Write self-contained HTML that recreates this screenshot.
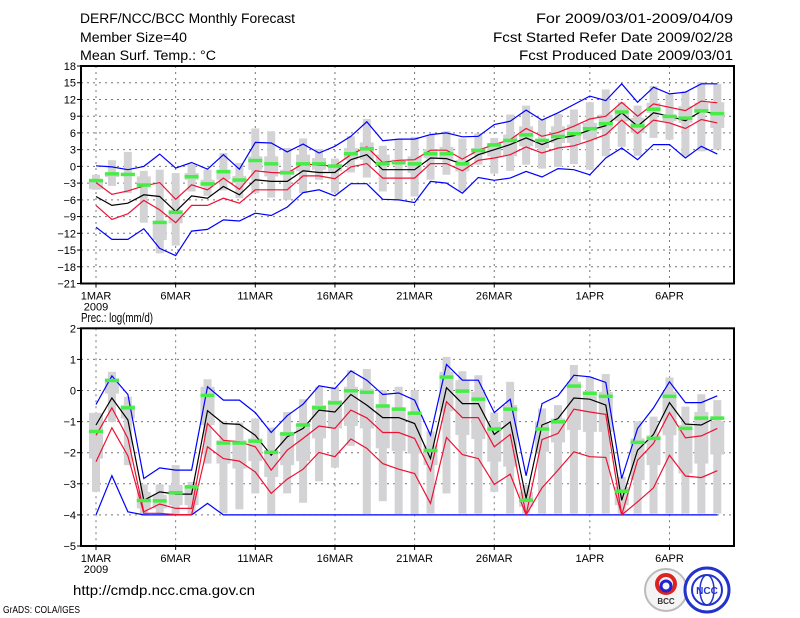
<!DOCTYPE html>
<html><head><meta charset="utf-8">
<style>
html,body{margin:0;padding:0;background:#fff;}
svg{display:block;font-family:"Liberation Sans",sans-serif;}
</style></head>
<body>
<svg id="chart" width="800" height="618" viewBox="0 0 800 618" xmlns="http://www.w3.org/2000/svg">
<rect width="800" height="618" fill="#fff"/>
<g font-size="13.5" fill="#000">
<text x="80" y="23" textLength="215" lengthAdjust="spacingAndGlyphs">DERF/NCC/BCC Monthly Forecast</text>
<text x="80" y="42" textLength="107" lengthAdjust="spacingAndGlyphs">Member Size=40</text>
<text x="80" y="60" textLength="136" lengthAdjust="spacingAndGlyphs">Mean Surf. Temp.: °C</text>
</g>
<g font-size="13.5" fill="#000" text-anchor="end">
<text x="733" y="23" textLength="197" lengthAdjust="spacingAndGlyphs">For 2009/03/01-2009/04/09</text>
<text x="733" y="42" textLength="240" lengthAdjust="spacingAndGlyphs">Fcst Started Refer Date 2009/02/28</text>
<text x="733" y="60" textLength="214" lengthAdjust="spacingAndGlyphs">Fcst Produced Date 2009/03/01</text>
</g>
<text x="81" y="322" font-size="13" textLength="72" lengthAdjust="spacingAndGlyphs">Prec.: log(mm/d)</text>
<text x="73" y="595" font-size="14" textLength="182" lengthAdjust="spacingAndGlyphs">http://cmdp.ncc.cma.gov.cn</text>
<text x="3" y="613" font-size="10" textLength="77" lengthAdjust="spacingAndGlyphs">GrADS: COLA/IGES</text>
<g>
<circle cx="666" cy="590" r="21" fill="#f4f4f4" stroke="#bbb" stroke-width="2"/>
<circle cx="666" cy="584" r="9" fill="none" stroke="#d22" stroke-width="4"/>
<circle cx="666" cy="586" r="5" fill="none" stroke="#22c" stroke-width="3"/>
<text x="666" y="604" font-size="8" font-weight="bold" text-anchor="middle" fill="#333">BCC</text>
</g>
<g>
<circle cx="707" cy="590" r="22" fill="#fff" stroke="#23c" stroke-width="3"/>
<circle cx="707" cy="590" r="15" fill="none" stroke="#23c" stroke-width="2"/>
<ellipse cx="707" cy="590" rx="7" ry="15" fill="none" stroke="#23c" stroke-width="1.5"/>
<text x="707" y="594" font-size="10" font-weight="bold" text-anchor="middle" fill="#23c">NCC</text>
</g>
<g id="p1"></g>
<g id="p2"></g>
</svg>
<script>
// shared
const dateLabels = ["1MAR","6MAR","11MAR","16MAR","21MAR","26MAR","1APR","6APR"];
const dateLabelDays = [0,5,10,15,20,25,31,36];
// temperature panel
const tTicks = [18,15,12,9,6,3,0,-3,-6,-9,-12,-15,-18,-21];
const tBlueHi = [0.1,-0.1,-0.6,0,2.2,-0.3,0.7,-0.5,2.1,-0.5,4.3,4.2,2.6,4.0,2.4,3.6,5.4,8.0,4.6,4.9,4.9,5.7,6.0,5.3,5.4,7.5,8.1,10.1,8.3,9.6,11.1,12.6,11.8,14.8,11.5,14.2,13.0,13.3,14.8,14.8];
const tRedHi = [-2.9,-5.0,-4.4,-3.5,-2.9,-5.9,-3.3,-4.2,-2.1,-4.1,-0.8,-1.1,-1.2,0.5,0.2,0.1,2.1,3.5,0.7,1.1,1.2,2.9,2.9,1.3,2.9,3.9,4.8,6.8,5.4,6.1,7.2,8.5,9.0,11.5,9.0,11.2,10.6,10.0,11.7,11.4];
const tMean = [-5.4,-7.0,-6.6,-5.1,-5.4,-8.1,-5.3,-5.7,-3.6,-5.1,-2.4,-2.7,-2.7,-0.8,-1.1,-1.1,1.2,2.1,-0.6,-0.6,-0.6,1.5,1.4,0.4,2.1,3.0,3.9,5.1,3.9,5.0,5.5,6.5,7.3,9.6,7.2,9.6,9.0,8.2,9.9,9.4];
const tRedLo = [-7.0,-9.5,-8.5,-6.1,-7.8,-10.1,-7.0,-7.0,-5.7,-6.6,-4.2,-4.2,-4.2,-1.7,-1.7,-2.2,-0.1,0.5,-2.1,-2.1,-2.1,0.5,0.5,-0.8,1.1,1.5,2.1,3.5,2.4,3.3,3.7,4.6,5.7,8.3,5.9,8.3,7.8,6.8,8.4,7.8];
const tBlueLo = [-10.9,-13.1,-13.1,-11.2,-14.7,-16.0,-11.6,-11.3,-9.6,-9.8,-8.4,-8.8,-7.3,-4.7,-4.2,-5.3,-3.1,-3.1,-5.9,-6.0,-6.5,-2.7,-3.0,-4.8,-2.0,-2.5,-2.1,-0.9,-1.9,-0.4,-0.6,-1.5,1.5,3.3,1.2,3.9,3.9,1.5,3.6,2.2];
const tObs = [-2.5,-1.3,-1.4,-3.3,-10.0,-8.2,-1.8,-3.1,-0.9,-2.4,1.1,0.5,-1.1,0.5,0.5,0.1,2.3,3.2,0.5,0.7,0.5,2.3,2.3,0.5,2.9,3.9,4.7,5.7,4.7,5.4,5.9,6.8,7.7,9.8,7.3,10.3,9.0,8.7,10.0,9.5];
const tMax = [-1.5,1.1,2.6,-0.8,-0.6,-1.2,0.4,-0.6,2.4,0.6,6.8,6.3,3.3,5.0,3.1,1.4,5.4,8.5,3.7,4.8,5.3,5.7,6.3,5.0,5.9,5.1,9.3,10.9,8.4,9.4,10.2,11.5,13.8,11.5,10.9,14.4,12.9,13.5,15.1,14.8];
const tQ3 = [-2.4,-1.2,-1.2,-1.8,-9.9,-7.8,-1.2,-2.4,-0.6,-1.7,1.8,1.8,-0.6,2.1,1.5,0.3,3.3,4.3,2.1,1.2,1.8,3.1,3.5,1.2,3.3,3.9,5.7,7.2,4.8,7.2,7.5,7.8,9.3,10.5,8.7,11.4,9.3,10.8,11.4,11.5];
const tQ1 = [-4.1,-1.9,-1.7,-3.6,-13.2,-10.2,-2.4,-3.6,-2.4,-3.0,-0.6,-1.8,-1.5,-0.9,-0.6,-0.9,1.2,1.2,0.6,0.6,-1.2,1.5,1.2,-0.9,2.1,1.8,1.8,3.6,3.3,4.2,4.2,4.8,6.6,8.1,6.0,9.6,8.1,7.8,9.6,6.9];
const tMin = [-4.2,-3.5,-4.8,-10.1,-15.6,-14.2,-4.5,-5.3,-4.3,-5.7,-4.8,-5.6,-6.0,-4.8,-2.4,-4.7,-1.1,-2.0,-4.5,-6.2,-5.4,-2.4,-1.5,-4.5,0.3,-1.3,-0.8,0.3,-0.4,-0.1,0.4,-0.6,1.8,3.5,1.9,5.1,4.8,1.8,2.7,3.0];
// precipitation panel
const pTicks = [2,1,0,-1,-2,-3,-4,-5];
const pBlueHi = [-0.45,0.47,-0.13,-2.83,-2.49,-2.56,-2.56,0.12,-0.31,-0.31,-0.71,-1.35,-0.81,-0.44,0.15,0.06,0.63,0.33,-0.13,-0.08,-0.31,-1.44,0.84,0.33,0.33,-0.71,-0.28,-2.74,-0.42,-0.17,0.49,0.44,0.26,-2.83,-1.22,-0.56,0.28,-0.39,-0.39,-0.17];
const pMean = [-1.11,-0.24,-0.95,-3.53,-3.26,-3.33,-3.33,-0.65,-1.06,-1.09,-1.44,-2.08,-1.49,-1.22,-0.63,-0.69,-0.13,-0.47,-0.87,-0.87,-1.06,-2.19,0.09,-0.42,-0.42,-1.41,-1.01,-3.47,-1.11,-0.9,-0.24,-0.28,-0.47,-3.53,-1.92,-1.41,-0.39,-1.08,-1.11,-0.85];
const pRedHi = [-1.44,-0.56,-1.54,-3.9,-3.65,-3.79,-3.79,-1.06,-1.6,-1.65,-1.81,-2.56,-1.92,-1.54,-1.14,-1.22,-0.63,-0.88,-1.35,-1.35,-1.54,-2.58,-0.36,-0.87,-0.87,-1.81,-1.41,-4.0,-1.58,-1.38,-0.6,-0.69,-0.77,-4.0,-2.24,-1.7,-0.71,-1.52,-1.46,-1.22];
const pRedLo = [-2.29,-1.2,-2.1,-3.95,-3.95,-3.99,-3.99,-1.81,-2.19,-2.27,-2.62,-3.31,-2.85,-2.53,-1.99,-2.13,-1.56,-1.86,-2.35,-2.53,-2.67,-3.63,-1.51,-2.06,-2.19,-3.02,-2.69,-4.0,-3.13,-2.56,-1.97,-2.13,-2.15,-4.0,-3.58,-3.13,-2.08,-2.75,-2.8,-2.58];
const pBlueLo = [-4,-2.74,-3.9,-4,-4,-4,-4,-3.63,-4,-4,-4,-4,-4,-4,-4,-4,-4,-4,-4,-4,-4,-4,-4,-4,-4,-4,-4,-4,-4,-4,-4,-4,-4,-4,-4,-4,-4,-4,-4,-4];
const pObs = [-1.31,0.33,-0.55,-3.53,-3.54,-3.28,-3.09,-0.15,-1.68,-1.68,-1.62,-1.98,-1.39,-1.1,-0.55,-0.39,0,-0.05,-0.49,-0.59,-0.72,-1.92,0.44,-0.01,-0.27,-1.23,-0.59,-3.52,-1.23,-1.0,0.15,-0.08,-0.18,-3.23,-1.66,-1.53,-0.18,-1.21,-0.88,-0.88];
const pMax = [-0.72,0.6,-0.2,-3.02,-3.02,-2.4,-2.94,0.36,-0.99,-1.03,-0.9,-1.19,-0.69,-0.28,0.12,0.12,0.65,0.69,0.01,0.12,0.01,-1.31,1.08,0.62,0.49,-0.71,0.28,-3.04,-0.58,-0.47,0.82,0.44,0.53,-2.78,-0.99,-0.84,0.42,-0.52,-0.12,-0.31];
const pQ3 = [-0.72,0.39,-0.47,-3.26,-3.36,-3.04,-3.15,0.12,-1.6,-1.6,-1.54,-1.92,-1.33,-1.06,-0.47,-0.31,0.12,0.06,-0.47,-0.58,-0.74,-1.76,0.6,0.33,-0.04,-1.01,-0.47,-3.26,-1.01,-0.9,0.28,-0.04,-0.04,-3.1,-1.54,-1.44,-0.04,-1.11,-0.69,-0.99];
const pQ1 = [-2.19,-0.1,-0.9,-3.79,-3.79,-3.69,-3.69,-1.11,-2.35,-2.51,-2.27,-2.78,-2.4,-2.27,-1.54,-1.22,-1.14,-1.22,-1.86,-1.95,-2.03,-2.4,-0.67,-1.43,-1.56,-2.29,-2.45,-3.74,-1.97,-1.67,-1.27,-1.33,-1.33,-3.69,-2.88,-2.4,-1.44,-2.67,-2.35,-2.06];
const pMin = [-3.26,-1.01,-2.4,-4.0,-3.98,-3.99,-3.99,-2.35,-3.95,-3.82,-3.31,-3.97,-3.31,-3.61,-2.92,-2.48,-1.78,-3.97,-3.56,-3.97,-3.97,-3.96,-3.31,-3.96,-3.96,-3.26,-3.96,-3.96,-3.96,-3.96,-3.96,-3.96,-3.96,-3.96,-3.96,-3.96,-3.96,-3.96,-3.96,-3.96];

const NS = "http://www.w3.org/2000/svg";
const X0 = 81, X1 = 734;
function xDay(i){ return 96 + i * 15.93; }
function mk(parent, tag, attrs){
  const e = document.createElementNS(NS, tag);
  for (const k in attrs) e.setAttribute(k, attrs[k]);
  parent.appendChild(e);
  return e;
}
function drawPanel(g, top, bot, vmax, vmin, ticks, S, prefix){
  const y = v => top + (vmax - v) / (vmax - vmin) * (bot - top);
  // grid
  ticks.forEach(t => {
    if (t === vmax || t === vmin) return;
    const l = mk(g, "line", {x1:X0, x2:X1, y1:y(t), y2:y(t), stroke:"#777", "stroke-width":1, "stroke-dasharray":"2,4"});
    
    
  });
  dateLabelDays.forEach(d => {
    const l = mk(g, "line", {x1:xDay(d), x2:xDay(d), y1:top, y2:bot, stroke:"#777", "stroke-width":1, "stroke-dasharray":"2,4"});
    
    
  });
  // boxes
  for (let i = 0; i < S.max.length; i++){
    const xc = xDay(i);
    const w = mk(g, "rect", {x:xc-4, y:y(S.max[i]), width:8, height:Math.max(1, y(S.min[i]) - y(S.max[i])), fill:"#d3d3d6"});
    
    
    const b = mk(g, "rect", {x:xc-7, y:y(S.q3[i]), width:14, height:Math.max(1, y(S.q1[i]) - y(S.q3[i])), fill:"#d3d3d6"});
    
    
  }
  const line = (arr, col, name) => {
    const p = mk(g, "polyline", {points: arr.map((v,i)=> xDay(i).toFixed(1)+","+y(v).toFixed(1)).join(" "), fill:"none", stroke:col, "stroke-width":1.2});
    
    
  };
  line(S.blueLo, "#0000ff", prefix + "-lower-bound-line");
  line(S.blueHi, "#0000ff", prefix + "-upper-bound-line");
  line(S.redLo, "#ee1133", prefix + "-lower-spread-line");
  line(S.redHi, "#ee1133", prefix + "-upper-spread-line");
  line(S.mean, "#000000", prefix + "-ensemble-mean-line");
  S.obs.forEach((v,i) => {
    const r = mk(g, "rect", {x:xDay(i)-7, y:y(v)-1.5, width:14, height:3.5, fill:"#44ee44"});
    
    
  });
  // frame
  const f = mk(g, "rect", {x:X0, y:top, width:X1-X0, height:bot-top, fill:"none", stroke:"#000", "stroke-width":2});
  
  
  // y ticks
  ticks.forEach(t => {
    mk(g, "line", {x1:X0-4, x2:X0, y1:y(t), y2:y(t), stroke:"#000", "stroke-width":1});
    const tx = mk(g, "text", {x:X0-5, y:y(t)+4, "font-size":11, "text-anchor":"end"});
    tx.textContent = (t < 0 ? "\u2212" + (-t) : String(t));
    
    
  });
  // x ticks
  dateLabelDays.forEach((d,k) => {
    mk(g, "line", {x1:xDay(d), x2:xDay(d), y1:bot, y2:bot+4, stroke:"#000", "stroke-width":1});
    const tx = mk(g, "text", {x:xDay(d), y:bot+16, "font-size":11, "text-anchor":"middle"});
    tx.textContent = dateLabels[k];
    
    
  });
  const yr = mk(g, "text", {x:xDay(0), y:bot+27, "font-size":11, "text-anchor":"middle"});
  yr.textContent = "2009";
  
  
}
drawPanel(document.getElementById("p1"), 66, 283.5, 18, -21, tTicks,
  {max:tMax,q3:tQ3,q1:tQ1,min:tMin,blueHi:tBlueHi,blueLo:tBlueLo,redHi:tRedHi,redLo:tRedLo,mean:tMean,obs:tObs}, "temp");
drawPanel(document.getElementById("p2"), 328.3, 546, 2, -5, pTicks,
  {max:pMax,q3:pQ3,q1:pQ1,min:pMin,blueHi:pBlueHi,blueLo:pBlueLo,redHi:pRedHi,redLo:pRedLo,mean:pMean,obs:pObs}, "precip");
</script>
</body></html>
